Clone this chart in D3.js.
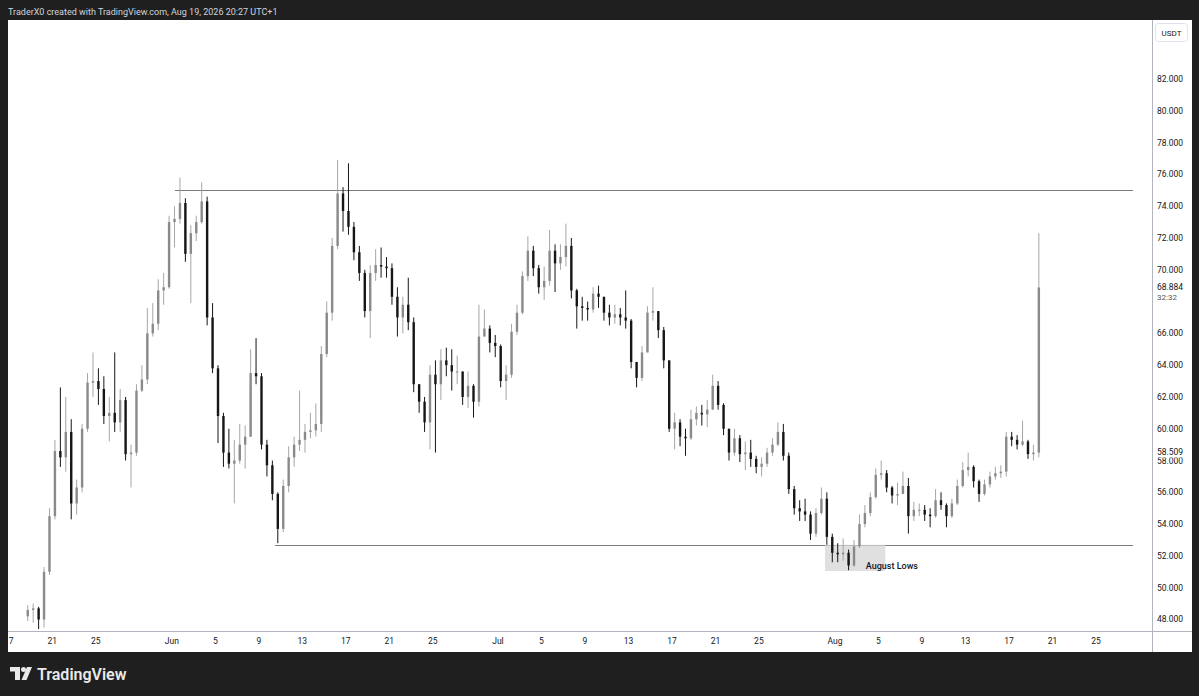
<!DOCTYPE html>
<html>
<head>
<meta charset="utf-8">
<script src="https://cdn.jsdelivr.net/npm/d3@7"></script>
<style>
    html, body { margin: 0; padding: 0; background: #1f1f1f; }
    svg { display: block; font-family: Roboto, "Noto Sans", sans-serif; }
</style>
</head>
<body>
<div id="chart"></div>
<script>
// 12h candles, chart time UTC+1, first one opens 18 May 2026 12:00
const firstCandle = Date.UTC(2026, 4, 18, 12);
const candleHours = 12;
const firstOpen = 48.2;

const closes = [
    48.6, 48.7, 48.0, 51.0, 54.5, 58.6, 58.2, 59.8, 55.3, 56.3,
    60.0, 62.9, 63.0, 62.5, 60.8, 61.0, 60.4, 61.8, 58.4, 58.5,
    62.4, 63.1, 66.0, 66.6, 68.7, 68.9, 73.0, 73.2, 74.2, 71.0,
    72.3, 73.0, 74.3, 67.0, 63.8, 60.8, 58.5, 57.8, 58.0, 59.0,
    59.5, 63.5, 63.3, 59.0, 57.7, 55.9, 53.7, 56.4, 58.2, 59.0,
    59.3, 59.8, 59.9, 60.3, 64.7, 67.3, 71.5, 74.8, 73.7, 72.7,
    71.1, 69.8, 67.4, 69.8, 70.3, 70.2, 70.1, 68.3, 67.0, 67.8,
    66.7, 62.8, 61.7, 60.4, 63.4, 62.8, 64.3, 64.0, 63.6, 63.6,
    62.0, 62.7, 61.7, 65.8, 66.3, 65.4, 65.2, 63.0, 63.4, 66.1,
    67.3, 69.6, 71.2, 70.1, 68.9, 69.3, 71.2, 70.4, 70.8, 71.5,
    68.7, 67.7, 67.6, 67.5, 68.5, 68.3, 67.3, 67.0, 67.2, 67.0,
    66.8, 64.2, 63.2, 64.8, 67.3, 67.4, 66.2, 64.3, 60.0, 60.4,
    59.5, 59.4, 60.6, 61.0, 60.9, 61.2, 62.7, 61.5, 60.0, 58.5,
    59.4, 58.4, 58.5, 58.1, 57.6, 57.8, 58.5, 59.0, 59.8, 58.3,
    56.2, 55.0, 54.8, 54.6, 53.4, 54.7, 55.6, 53.2, 52.2, 52.1,
    52.2, 51.4, 52.6, 54.0, 54.7, 55.7, 57.1, 57.2, 56.3, 55.8,
    55.9, 56.4, 54.5, 54.9, 54.9, 54.6, 54.5, 55.5, 55.2, 54.5,
    55.3, 56.4, 57.4, 57.6, 56.7, 55.9, 56.5, 57.0, 57.2, 57.3,
    59.5, 59.3, 59.0, 59.2, 58.4, 58.5, 68.884
];

const highs = [
    48.9, 49.0, 48.8, 51.3, 55.0, 59.3, 62.6, 62.0, 60.6, 56.8,
    60.3, 63.5, 64.8, 63.8, 63.3, 62.0, 64.8, 62.5, 62.0, 59.0,
    62.8, 64.0, 67.6, 67.9, 69.4, 69.8, 73.4, 74.0, 75.8, 74.5,
    72.8, 73.4, 75.5, 74.6, 67.9, 64.0, 61.0, 60.0, 59.3, 60.3,
    60.2, 65.0, 65.7, 63.5, 59.3, 58.0, 56.0, 56.8, 58.9, 59.5,
    62.4, 60.3, 61.0, 61.6, 65.2, 68.0, 72.0, 76.9, 75.2, 76.7,
    73.0, 71.5, 70.0, 70.3, 71.3, 71.4, 70.8, 70.4, 68.9, 68.3,
    69.5, 67.0, 62.8, 62.0, 64.0, 64.3, 65.0, 65.1, 65.0, 64.6,
    63.5, 63.6, 62.8, 67.8, 67.5, 66.5, 65.9, 65.3, 64.0, 66.6,
    67.8, 69.9, 72.1, 71.5, 70.3, 70.2, 72.5, 71.6, 71.6, 72.9,
    72.0, 68.8, 68.3, 68.0, 68.9, 69.0, 68.3, 67.8, 67.8, 67.6,
    68.7, 66.9, 64.0, 65.2, 67.7, 68.9, 67.4, 66.4, 64.3, 61.0,
    60.6, 60.0, 61.2, 61.4, 61.5, 61.8, 63.4, 63.0, 61.6, 60.0,
    60.0, 59.6, 59.2, 59.3, 58.3, 58.2, 58.8, 59.4, 60.4, 60.3,
    58.5, 56.4, 55.5, 55.6, 54.8, 55.0, 56.3, 56.0, 53.4, 52.8,
    53.1, 52.4, 53.0, 54.6, 55.2, 56.0, 57.5, 58.0, 57.4, 56.4,
    56.6, 57.3, 56.9, 55.4, 55.3, 55.2, 55.0, 56.2, 56.0, 55.3,
    55.6, 56.8, 57.9, 58.5, 57.7, 56.8, 56.8, 57.3, 57.6, 57.7,
    59.8, 59.8, 59.6, 60.5, 59.3, 59.0, 72.3
];

const lows = [
    47.9, 47.8, 47.4, 47.5, 50.8, 54.3, 57.6, 57.3, 54.3, 54.6,
    56.0, 59.8, 62.0, 61.5, 60.3, 59.2, 59.8, 59.8, 58.0, 56.3,
    58.3, 62.3, 62.8, 65.8, 66.2, 67.8, 68.8, 71.4, 72.9, 70.5,
    67.9, 71.8, 72.9, 66.5, 63.5, 59.1, 57.6, 57.5, 55.3, 57.8,
    57.5, 59.5, 62.8, 58.7, 57.0, 55.5, 52.8, 53.5, 56.0, 57.6,
    58.6, 58.5, 59.4, 59.5, 59.8, 64.5, 66.8, 71.3, 72.4, 72.2,
    70.6, 69.3, 67.0, 65.7, 69.3, 69.5, 69.5, 67.8, 65.8, 66.0,
    66.2, 62.3, 61.0, 59.8, 58.7, 58.5, 61.8, 63.3, 62.4, 62.8,
    61.5, 61.3, 60.7, 61.4, 65.8, 64.8, 64.5, 62.6, 61.8, 63.2,
    65.9, 67.2, 69.3, 69.6, 68.5, 68.1, 69.0, 68.6, 70.0, 70.2,
    68.2, 66.3, 66.8, 66.8, 67.3, 67.6, 66.8, 66.5, 66.6, 66.5,
    66.3, 63.8, 62.6, 63.0, 64.8, 66.8, 65.7, 63.8, 59.8, 58.7,
    58.9, 58.3, 59.3, 60.2, 60.2, 60.1, 61.2, 61.2, 59.6, 58.0,
    58.3, 57.9, 57.4, 57.6, 57.2, 57.0, 57.6, 58.3, 58.9, 58.0,
    55.9, 54.6, 54.2, 54.2, 53.0, 53.2, 54.6, 52.7, 51.6, 51.6,
    51.7, 51.1, 51.3, 52.5, 53.8, 54.5, 55.6, 56.8, 56.0, 55.3,
    55.2, 55.9, 53.4, 54.2, 54.5, 54.2, 53.8, 54.4, 54.9, 53.8,
    54.4, 55.2, 56.3, 57.0, 56.3, 55.4, 55.8, 56.3, 56.8, 56.9,
    57.0, 58.9, 58.7, 58.9, 58.1, 58.0, 58.2
];

// price axis ticks and markers
const priceTicks = [48, 50, 52, 54, 56, 58, 60, 62, 64, 66, 68, 70, 72, 74, 76, 78, 80, 82];
const lastPrice = 68.884;
const countdown = "32:32";
const markedPrice = 58.509;

// time axis ticks (chart time)
const timeTicks = [
    [2026, 4, 17, "17"], [2026, 4, 21, "21"], [2026, 4, 25, "25"],
    [2026, 5, 1, "Jun"], [2026, 5, 5, "5"], [2026, 5, 9, "9"], [2026, 5, 13, "13"],
    [2026, 5, 17, "17"], [2026, 5, 21, "21"], [2026, 5, 25, "25"],
    [2026, 6, 1, "Jul"], [2026, 6, 5, "5"], [2026, 6, 9, "9"], [2026, 6, 13, "13"],
    [2026, 6, 17, "17"], [2026, 6, 21, "21"], [2026, 6, 25, "25"],
    [2026, 7, 1, "Aug"], [2026, 7, 5, "5"], [2026, 7, 9, "9"], [2026, 7, 13, "13"],
    [2026, 7, 17, "17"], [2026, 7, 21, "21"], [2026, 7, 25, "25"]
];

// drawn levels and the August lows zone
const resistanceLevel = 75.0;
const supportLevel = 52.7;
const resistanceStart = Date.UTC(2026, 5, 1, 7);
const supportStart = Date.UTC(2026, 5, 10, 12);
const levelsEnd = Date.UTC(2026, 7, 28, 10);
const lowsZone = { from: Date.UTC(2026, 6, 31, 2), to: Date.UTC(2026, 7, 5, 15), top: 52.7, bottom: 51.05 };
const lowsLabel = { text: "August Lows", at: Date.UTC(2026, 7, 3, 20), price: 51.4 };

const headerText = "TraderX0 created with TradingView.com, Aug 19, 2026 20:27 UTC+1";

// Layout
const width = 1199, height = 696;
const pane = { left: 8, top: 20, right: 1152, bottom: 631 };
const frameRight = 1192, frameBottom = 652;

const svg = d3.select("#chart").append("svg")
    .attr("width", width)
    .attr("height", height);

svg.append("rect").attr("width", width).attr("height", height).attr("fill", "#1f1f1f");

// white chart frame
svg.append("rect")
    .attr("x", pane.left).attr("y", pane.top)
    .attr("width", frameRight - pane.left).attr("height", frameBottom - pane.top)
    .attr("fill", "#ffffff");

// Scales
const x = d3.scaleUtc()
    .domain([Date.UTC(2026, 5, 1), Date.UTC(2026, 7, 1)])
    .range([171.8, 835]);

const y = d3.scaleLinear()
    .domain([48, 82])
    .range([619.5, 79]);

svg.append("clipPath").attr("id", "pane")
    .append("rect")
    .attr("x", pane.left).attr("y", pane.top)
    .attr("width", pane.right - pane.left).attr("height", pane.bottom - pane.top);

const plot = svg.append("g").attr("clip-path", "url(#pane)");

// Build candles
const step = candleHours * 3600 * 1000;
const candles = closes.map((c, i) => ({
    t: firstCandle + i * step + step / 2,
    open: i === 0 ? firstOpen : closes[i - 1],
    close: c,
    high: highs[i],
    low: lows[i]
}));

const bodyWidth = 2.4;
const upBody = "#8a8a8a", upWick = "#a6a6a6", downColor = "#161616";

// horizontal levels
[[resistanceLevel, resistanceStart], [supportLevel, supportStart]].forEach(([level, start]) => {
    plot.append("line")
        .attr("x1", x(start)).attr("x2", x(levelsEnd))
        .attr("y1", Math.round(y(level)) + 0.5).attr("y2", Math.round(y(level)) + 0.5)
        .attr("stroke", "#7a7a7a")
        .attr("stroke-width", 1);
});

// August lows zone
plot.append("rect")
    .attr("x", x(lowsZone.from))
    .attr("y", y(lowsZone.top))
    .attr("width", x(lowsZone.to) - x(lowsZone.from))
    .attr("height", y(lowsZone.bottom) - y(lowsZone.top))
    .attr("fill", "#d6d6d6")
    .attr("fill-opacity", 0.75);

// Candles
const candle = plot.append("g").selectAll("g")
    .data(candles)
    .join("g");

candle.append("line")
    .attr("x1", d => x(d.t)).attr("x2", d => x(d.t))
    .attr("y1", d => y(Math.max(d.high, d.open, d.close)))
    .attr("y2", d => y(Math.min(d.low, d.open, d.close)))
    .attr("stroke", d => d.close >= d.open ? upWick : downColor)
    .attr("stroke-width", 1);

candle.append("rect")
    .attr("x", d => x(d.t) - bodyWidth / 2)
    .attr("y", d => y(Math.max(d.open, d.close)))
    .attr("width", bodyWidth)
    .attr("height", d => Math.max(1, Math.abs(y(d.open) - y(d.close))))
    .attr("fill", d => d.close >= d.open ? upBody : downColor);

plot.append("text")
    .attr("x", x(lowsLabel.at))
    .attr("y", y(lowsLabel.price))
    .attr("dy", "0.35em")
    .attr("fill", "#131722")
    .style("font-size", "9px")
    .style("font-weight", 500)
    .text(lowsLabel.text);

// Axis separators
svg.append("line")
    .attr("x1", pane.right + 0.5).attr("x2", pane.right + 0.5)
    .attr("y1", pane.top).attr("y2", frameBottom)
    .attr("stroke", "#b2b5be");

svg.append("line")
    .attr("x1", pane.left).attr("x2", frameRight)
    .attr("y1", pane.bottom + 0.5).attr("y2", pane.bottom + 0.5)
    .attr("stroke", "#b2b5be");

// Price axis: grid labels hidden behind the last price label are skipped
const lastLabelTop = y(lastPrice) - 7, lastLabelBottom = y(lastPrice) + 15;
const priceAxis = svg.append("g");
priceAxis.selectAll("text")
    .data(priceTicks.filter(d => y(d) < lastLabelTop || y(d) > lastLabelBottom))
    .join("text")
    .attr("x", 1157)
    .attr("y", d => y(d))
    .attr("dy", "0.35em")
    .attr("fill", "#131722")
    .style("font-size", "8.5px")
    .text(d => d3.format(".3f")(d));

svg.append("text")
    .attr("x", 1157).attr("y", y(lastPrice))
    .attr("dy", "0.35em")
    .attr("fill", "#131722")
    .style("font-size", "8.5px")
    .text(d3.format(".3f")(lastPrice));

svg.append("text")
    .attr("x", 1157).attr("y", y(lastPrice) + 10)
    .attr("dy", "0.35em")
    .attr("fill", "#555")
    .style("font-size", "8px")
    .text(countdown);

// marked price label partly covers the 58.000 label under it
svg.append("rect")
    .attr("x", pane.right + 2).attr("y", y(markedPrice) - 6)
    .attr("width", 36).attr("height", 11)
    .attr("fill", "#ffffff");

svg.append("text")
    .attr("x", 1157).attr("y", y(markedPrice))
    .attr("dy", "0.35em")
    .attr("fill", "#131722")
    .style("font-size", "8.5px")
    .text(d3.format(".3f")(markedPrice));

// Currency badge
svg.append("rect")
    .attr("x", 1155.5).attr("y", 23.5)
    .attr("width", 32).attr("height", 18)
    .attr("rx", 3)
    .attr("fill", "#ffffff")
    .attr("stroke", "#e0e3eb");

svg.append("text")
    .attr("x", 1171.5).attr("y", 33)
    .attr("dy", "0.35em")
    .attr("text-anchor", "middle")
    .attr("fill", "#131722")
    .style("font-size", "8px")
    .text("USDT");

// Time axis
svg.append("clipPath").attr("id", "timeclip")
    .append("rect")
    .attr("x", pane.left).attr("y", pane.bottom)
    .attr("width", pane.right - pane.left).attr("height", frameBottom - pane.bottom);
const timeAxis = svg.append("g").attr("clip-path", "url(#timeclip)");

timeAxis.selectAll("text")
    .data(timeTicks)
    .join("text")
    .attr("x", d => x(Date.UTC(d[0], d[1], d[2])))
    .attr("y", 641.5)
    .attr("dy", "0.35em")
    .attr("text-anchor", "middle")
    .attr("fill", "#131722")
    .style("font-size", "8.5px")
    .text(d => d[3]);

// Header
svg.append("text")
    .attr("x", 8).attr("y", 12)
    .attr("dy", "0.35em")
    .attr("fill", "#d1d4dc")
    .style("font-size", "9px")
    .text(headerText);

// Footer logo
const logo = svg.append("g").attr("fill", "#e9e9e9");
logo.append("path").attr("d", "M10,667 H20 V680 H15 V671.5 H10 Z");
logo.append("circle").attr("cx", 23.5).attr("cy", 669.5).attr("r", 2.5);
logo.append("path").attr("d", "M27,667 H32 L26.5,680 H21.5 Z");

svg.append("text")
    .attr("x", 37).attr("y", 674)
    .attr("dy", "0.35em")
    .attr("fill", "#e9e9e9")
    .style("font-size", "16px")
    .style("font-weight", 600)
    .text("TradingView");
</script>
</body>
</html>
